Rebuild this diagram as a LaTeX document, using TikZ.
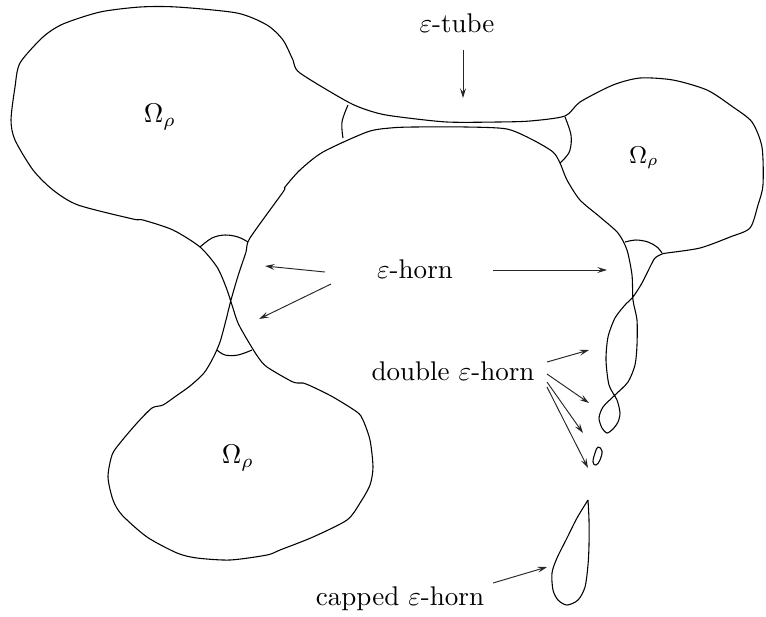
\documentclass[tikz,border=0pt]{standalone}
\usetikzlibrary{arrows.meta}
\begin{document}
\begin{tikzpicture}[x=0.37pt,y=-0.37pt,
  outline/.style={line width=0.4pt,line join=round},
  pointer/.style={line width=0.35pt,draw=black!85,-{Stealth[length=3.6pt,width=2.2pt,inset=1.4pt]}},
  lbl/.style={anchor=base,inner sep=0pt}]
\useasboundingbox (0,0) rectangle (766,616);
% main outline (one closed curve with two self-crossings)
\draw[outline] plot[smooth cycle,tension=0.45] coordinates {
 (200,247) (173,230) (143,220) (133,219) (78,205) (53,190) (33,170) (15,140) (11,120)
 (15,87) (20,63) (43,37) (63,24) (100,12) (140,7) (177,7) (237,13) (267,25) (283,40)
 (293,60) (300,73) (350,103) (377,113) (400,117) (447,122) (497,122) (530,121) (565,116)
 (580,102) (613,85) (640,78) (673,80) (707,90) (733,107) (752,122) (762,147) (763,185)
 (758,205) (750,228) (730,237) (700,248) (667,253) (662,254) (655,258) (650,267)
 (642,283) (633,297) (625,305) (615,318) (608,337) (606,360) (609,385) (617,400)
 (620,413) (618,422) (613,429) (607,433) (602,428) (599,418) (603,407) (615,395)
 (628,382) (635,365) (637,345) (637,320) (633,300) (632,275) (627,250) (618,233)
 (600,217) (580,200) (567,180) (560,163) (553,152) (533,140) (507,129) (467,127)
 (413,127) (390,128) (367,132) (323,152) (300,170) (285,187) (283,192) (250,238)
 (246,252) (238,276) (231,300) (226,320) (220,342) (213,358) (204,373) (190,386)
 (176,396) (163,405) (152,408) (137,423) (120,443) (112,455) (108,477) (113,500)
 (122,515) (147,537) (177,553) (197,558) (230,560) (267,555) (280,550) (313,537)
 (347,520) (360,503) (370,485) (373,467) (370,440) (363,420) (357,412) (333,397)
 (313,387) (303,383) (293,382) (267,367) (258,357) (248,341) (238,323) (232,305)
 (226,287) (217,267)};
% caps
\draw[outline] plot[smooth,tension=0.6] coordinates {(348,105) (342,122) (343,138)};
\draw[outline] plot[smooth,tension=0.6] coordinates {(565,117) (571,135) (570,150) (565,158) (560,163)};
\draw[outline] plot[smooth,tension=0.6] coordinates {(200,247) (212,238) (225,235) (238,237) (248,242)};
\draw[outline] plot[smooth,tension=0.6] coordinates {(217,350) (225,355) (238,355) (252,350)};
\draw[outline] plot[smooth,tension=0.6] coordinates {(625,242) (636,240) (648,242) (657,247) (662,253)};
% small loop
\draw[outline] plot[smooth cycle,tension=0.7] coordinates {(598,447) (602,451) (600,460) (596,465) (593,462) (595,453)};
% capped horn
\draw[outline] plot[smooth,tension=0.5] coordinates {(588,500) (589,520) (589,545) (588,565) (585,587)
 (578,600) (567,605) (558,600) (553,590) (552,573) (557,558) (567,538) (577,518) (588,500)};
% labels
\node[lbl] (tube) at (457,32) {$\varepsilon$-tube};
\node[lbl] (horn) at (415,278) {$\varepsilon$-horn};
\node[lbl] (dbl) at (453,380) {double $\varepsilon$-horn};
\node[lbl] (cap) at (400,605) {capped $\varepsilon$-horn};
\node[lbl] (om1) at (160,122) {$\Omega_\rho$};
\node[lbl] (om2) at (644,163) {\small$\Omega_\rho$};
\node[lbl] (om3) at (238,463) {$\Omega_\rho$};
% arrow coordinates
\coordinate (t0) at (463,50);  \coordinate (t1) at (463,98);
\coordinate (h0) at (325,272); \coordinate (h1) at (265,266);
\coordinate (h2) at (331,284); \coordinate (h3) at (259,319);
\coordinate (h4) at (493,270); \coordinate (h5) at (607,270);
\coordinate (d0) at (547,362); \coordinate (d1) at (589,350);
\coordinate (d2) at (547,374); \coordinate (d3) at (589,403);
\coordinate (d4) at (547,382); \coordinate (d5) at (583,433);
\coordinate (d6) at (547,387); \coordinate (d7) at (588,468);
\coordinate (c0) at (493,583); \coordinate (c1) at (547,567);
\draw[pointer] (t0) -- (t1);
\draw[pointer] (h0) -- (h1);
\draw[pointer] (h2) -- (h3);
\draw[pointer] (h4) -- (h5);
\draw[pointer] (d0) -- (d1);
\draw[pointer] (d2) -- (d3);
\draw[pointer] (d4) -- (d5);
\draw[pointer] (d6) -- (d7);
\draw[pointer] (c0) -- (c1);
\end{tikzpicture}
\end{document}
